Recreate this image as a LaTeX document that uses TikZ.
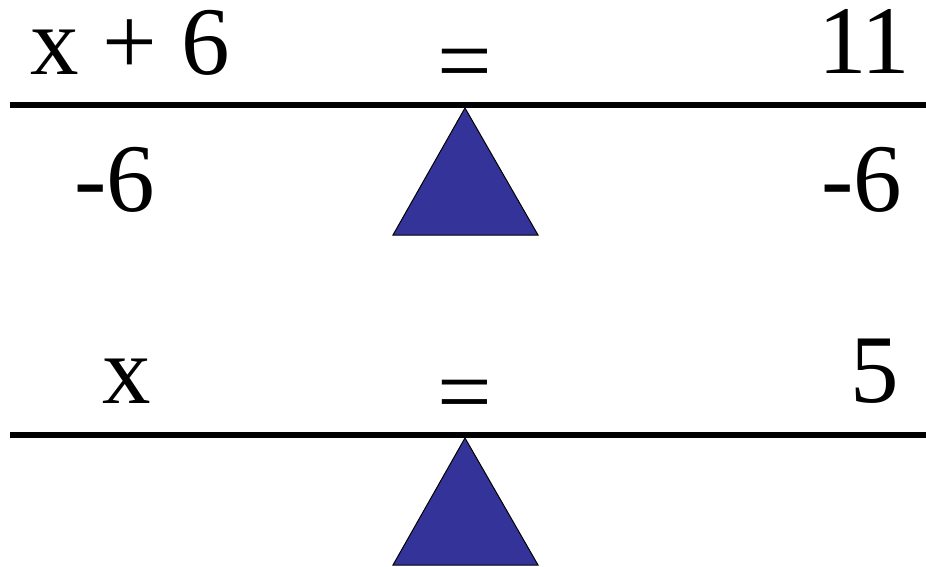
\documentclass[tikz,border=0pt]{standalone}
\usepackage{fontspec}
\setmainfont{Liberation Serif}
\definecolor{tri}{HTML}{333399}
\begin{document}
\begin{tikzpicture}[x=1pt,y=-1pt,
  txt/.style={inner sep=0pt,text height=0.7em,text depth=0pt,font=\fontsize{97}{110}\selectfont},
  beam/.style={line width=6.5pt},
  fulcrum/.style={fill=tri,draw=black,line width=1pt,line join=miter}]
\useasboundingbox (0,0) rectangle (926,567);
% top balance
\coordinate (b1l) at (10,105);
\coordinate (b1r) at (926,105);
\draw[beam] (b1l) -- (b1r);
\coordinate (t1a) at (465,108);
\coordinate (t1b) at (538,235);
\coordinate (t1c) at (393,235);
\filldraw[fulcrum] (t1a) -- (t1b) -- (t1c) -- cycle;
\node[txt,anchor=base west] (lhs1) at (30,75) {x + 6};
\node[txt,anchor=base] (eq1) at (465,94) {=};
\node[txt,anchor=base east] (rhs1) at (910,74) {1\kern-6pt 1};
\node[txt,anchor=base west] (sl1) at (74,211) {-6};
\node[txt,anchor=base east] (sr1) at (902,211) {-6};
% bottom balance
\coordinate (b2l) at (10,435);
\coordinate (b2r) at (926,435);
\draw[beam] (b2l) -- (b2r);
\coordinate (t2a) at (465,438);
\coordinate (t2b) at (538,565);
\coordinate (t2c) at (393,565);
\filldraw[fulcrum] (t2a) -- (t2b) -- (t2c) -- cycle;
\node[txt,anchor=base west] (lhs2) at (102,403) {x};
\node[txt,anchor=base] (eq2) at (465,424) {=};
\node[txt,anchor=base east] (rhs2) at (899,402) {5};
\end{tikzpicture}
\end{document}
